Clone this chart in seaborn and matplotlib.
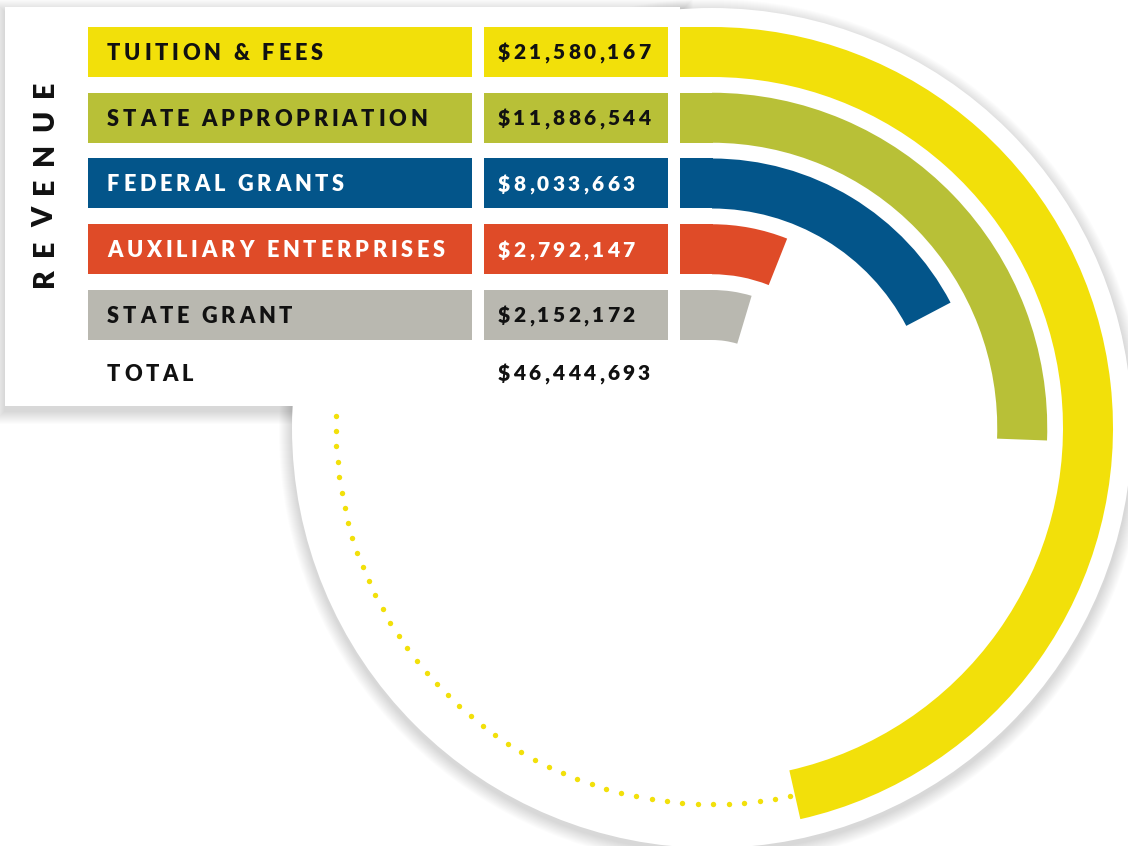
import numpy as np
import matplotlib
matplotlib.use("Agg")
import matplotlib.pyplot as plt
import seaborn as sns
from matplotlib.patches import Rectangle, Wedge, Circle
from matplotlib.font_manager import FontProperties, findfont, get_font

# ---------------- data ----------------
categories = ["TUITION & FEES", "STATE APPROPRIATION", "FEDERAL GRANTS",
              "AUXILIARY ENTERPRISES", "STATE GRANT"]
values = [21580167, 11886544, 8033663, 2792147, 2152172]
colors = ["#F2E00A", "#B8C037", "#03558A", "#DF4B28", "#B9B8B0"]
text_colors = ["#111111", "#111111", "#FFFFFF", "#FFFFFF", "#111111"]
total_label = "TOTAL"
side_title = "REVENUE"

# ---------------- style ----------------
sns.set_theme(style="white")
plt.rcParams['font.family'] = ['Lato', 'DejaVu Sans']
palette = sns.color_palette(colors)

W, H, DPI = 1128, 846, 100
fig = plt.figure(figsize=(W / DPI, H / DPI), dpi=DPI)
fig.patch.set_facecolor("white")
ax = fig.add_axes([0, 0, 1, 1])
ax.set_xlim(0, W)
ax.set_ylim(H, 0)
ax.axis("off")

# layout (pixels)
CX, CY = 712, 428          # centre of the rings
DISC_R = 420
ROW_TOP0, ROW_PITCH, ROW_H = 27, 65.75, 50
LAB_X0, LAB_X1 = 88, 472
VAL_X0, VAL_X1 = 484, 668
ARC_X0 = 680
PANEL = (5, 7, 680, 406)

total = sum(values)


def tracked(s, x, y, size, tracking, color, rotation=0, z=10, weight="heavy"):
    prop = FontProperties(family="Lato", weight=weight, size=size)
    font = get_font(findfont(prop))
    font.set_size(size, DPI)
    pos = x if rotation == 0 else y
    for ch in s:
        adv = font.load_char(ord(ch)).linearHoriAdvance / 65536
        if rotation == 0:
            ax.text(pos, y, ch, fontproperties=prop, color=color, ha="left",
                    va="baseline", zorder=z)
            pos += adv + tracking
        else:
            ax.text(x, pos, ch, fontproperties=prop, color=color, ha="left",
                    va="baseline", rotation=90, rotation_mode="anchor", zorder=z)
            pos -= adv + tracking


# ---------------- shadows & backgrounds ----------------
px0, py0, px1, py1 = PANEL
for k in range(1, 14):
    ax.add_patch(Rectangle((px0 - k, py0 - k + 5), (px1 - px0) + 2 * k,
                           (py1 - py0) + 2 * k, facecolor="black",
                           edgecolor="none", alpha=0.010, zorder=1))
for k in range(1, 14):
    ax.add_patch(Circle((CX, CY + 4), DISC_R + k, facecolor="black",
                        edgecolor="none", alpha=0.010, zorder=2))
ax.add_patch(Circle((CX, CY), DISC_R, facecolor="white", edgecolor="none", zorder=3))

# dotted remainder of the outer ring
yellow_sweep = values[0] / total * 360
r_dot = CY - ROW_TOP0 - ROW_H / 2
step = np.degrees(15.5 / r_dot)
ang = np.arange(-90 + yellow_sweep + step * 0.3, 270, step)
ax.scatter(CX + r_dot * np.cos(np.radians(ang)), CY + r_dot * np.sin(np.radians(ang)),
           s=15, color=palette[0], linewidths=0, zorder=4)

ax.add_patch(Rectangle((px0, py0), px1 - px0, py1 - py0, facecolor="white",
                       edgecolor="none", zorder=5))

# ---------------- table + rings ----------------
LAB_SIZE, VAL_SIZE = 15.7, 15.0
lab_cap = 0.7165 * LAB_SIZE * DPI / 72
val_cap = 0.7165 * VAL_SIZE * DPI / 72
for i, (cat, v, c, tc) in enumerate(zip(categories, values, palette, text_colors)):
    top = ROW_TOP0 + i * ROW_PITCH
    mid = top + ROW_H / 2
    ax.add_patch(Rectangle((LAB_X0, top), LAB_X1 - LAB_X0, ROW_H, facecolor=c,
                           edgecolor="none", zorder=6))
    ax.add_patch(Rectangle((VAL_X0, top), VAL_X1 - VAL_X0, ROW_H, facecolor=c,
                           edgecolor="none", zorder=6))
    # ring: straight lead-in then arc proportional to share of total
    ax.add_patch(Rectangle((ARC_X0, top), CX - ARC_X0 + 0.6, ROW_H, facecolor=c,
                           edgecolor="none", zorder=6))
    sweep = v / total * 360
    ax.add_patch(Wedge((CX, CY), CY - top, -90, -90 + sweep, width=ROW_H,
                       facecolor=c, edgecolor="none", zorder=6))
    tracked(cat, 107, mid + lab_cap / 2, LAB_SIZE, 3.8, tc)
    tracked(f"${v:,}", 498, mid + val_cap / 2, VAL_SIZE, 3.3, tc)

tot_mid = 373
tracked(total_label, 107, tot_mid + lab_cap / 2, LAB_SIZE, 3.8, "#111111")
tracked(f"${total:,}", 498, tot_mid + val_cap / 2, VAL_SIZE, 3.3, "#111111")

# side title
T_SIZE = 20.5
t_cap = 0.7165 * T_SIZE * DPI / 72
tracked(side_title, 43 + t_cap / 2, 287, T_SIZE, 12.5, "#111111", rotation=90)

fig.savefig("out.png", dpi=DPI, facecolor="white")
